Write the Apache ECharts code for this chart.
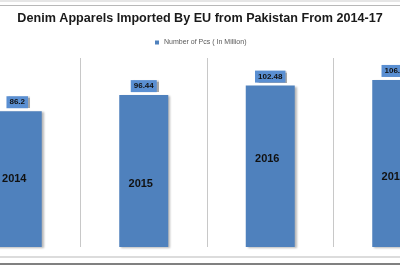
<!DOCTYPE html>
<html>
<head>
<meta charset="utf-8">
<script src="https://cdn.jsdelivr.net/npm/echarts@6/dist/echarts.min.js"></script>
<style>html,body{margin:0;padding:0;background:#fff;overflow:hidden;width:400px;height:266px;}#c{width:506px;height:266px;margin-left:-46px;}</style>
</head>
<body>
<div id="c"></div>
<script>
var categories = ['2014', '2015', '2016', '2017'];
var pcsMillion = [86.2, 96.44, 102.48, 106.06];
var seriesName = 'Number of Pcs ( In Million)';
var titleText = 'Denim Apparels Imported By EU from Pakistan From 2014-17';

// per-bar offset of the year label inside each bar (style)
var yearLabelOffsetY = [0, 13, -7, 13];

var chart = echarts.init(document.getElementById('c'), null, {renderer: 'canvas'});
var barData = pcsMillion.map(function (v, i) {
  return {
    value: v,
    label: {offset: [-3, yearLabelOffsetY[i]]}
  };
});
chart.setOption({
  animation: false,
  backgroundColor: '#ffffff',
  title: {
    text: titleText,
    left: 246,
    textAlign: 'center',
    top: 12,
    padding: 0,
    textStyle: {fontFamily: 'Liberation Sans', fontWeight: 'bold', fontSize: 12.6, color: '#1a1a1a'}
  },
  legend: {
    data: [seriesName],
    top: 39,
    left: 246 - 45,
    itemWidth: 4,
    itemHeight: 4,
    itemGap: 2,
    icon: 'rect',
    padding: 0,
    textStyle: {fontFamily: 'Liberation Sans', fontSize: 7, color: '#595959'}
  },
  grid: {left: 0, right: 0, top: 58, bottom: 19, containLabel: false},
  xAxis: {
    type: 'category',
    data: categories,
    boundaryGap: true,
    axisLine: {show: false},
    axisTick: {show: false},
    axisLabel: {show: false},
    splitLine: {show: true, lineStyle: {color: '#c8c8c8', width: 1}}
  },
  yAxis: {
    type: 'value',
    min: 0,
    max: 120,
    show: false,
    splitLine: {show: false}
  },
  series: [
    {
      name: seriesName,
      type: 'bar',
      barWidth: 49,
      data: barData,
      itemStyle: {
        color: '#4F81BD',
        shadowColor: 'rgba(0,0,0,0.28)',
        shadowBlur: 2,
        shadowOffsetX: 2,
        shadowOffsetY: 1
      },
      label: {
        show: true,
        position: 'inside',
        formatter: function (p) { return categories[p.dataIndex]; },
        fontFamily: 'Liberation Sans',
        fontWeight: 'bold',
        fontSize: 11,
        color: '#111111'
      }
    },
    {
      name: seriesName,
      type: 'bar',
      barWidth: 49,
      barGap: '-100%',
      data: pcsMillion,
      silent: true,
      itemStyle: {color: 'rgba(0,0,0,0)'},
      label: {
        show: true,
        position: 'top',
        distance: 3,
        formatter: function (p) { return String(p.value); },
        fontFamily: 'Liberation Sans',
        fontWeight: 'bold',
        fontSize: 8,
        color: '#111111',
        backgroundColor: '#5A8FD2',
        padding: [2, 3, 2, 3],
        shadowColor: 'rgba(0,0,0,0.35)',
        shadowBlur: 1,
        shadowOffsetX: 2,
        shadowOffsetY: 0
      }
    }
  ],
  graphic: [
    {type: 'rect', shape: {x: 0, y: 0, width: 506, height: 2}, style: {fill: '#e6e6e6'}, z: 100},
    {type: 'rect', shape: {x: 0, y: 5, width: 506, height: 1}, style: {fill: '#b8b8b8'}, z: 100},
    {type: 'rect', shape: {x: 0, y: 256, width: 506, height: 2}, style: {fill: '#dcdcdc'}, z: 100},
    {type: 'rect', shape: {x: 0, y: 263, width: 506, height: 2}, style: {fill: '#808080'}, z: 100}
  ]
});
</script>
</body>
</html>
